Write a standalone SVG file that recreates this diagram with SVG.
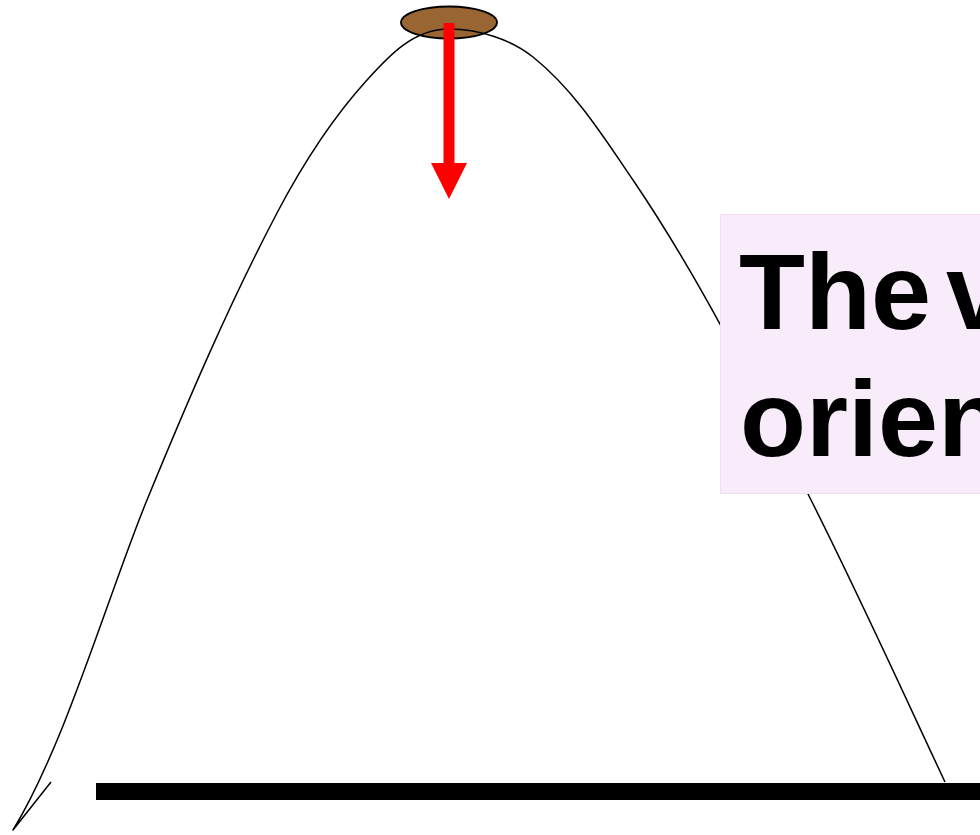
<svg xmlns="http://www.w3.org/2000/svg" width="980" height="835" viewBox="0 0 980 835">
  <style>
    .curve { fill: none; stroke: #000; stroke-width: 1.5; stroke-linejoin: round; }
    .ball { fill: #996633; stroke: #000; stroke-width: 1.8; }
    .arrow { fill: #FF0000; }
    .box { fill: #F9ECFA; stroke: #F3DCF3; stroke-width: 1; }
    .label { font-family: "Liberation Sans", Arial, Helvetica, sans-serif; font-weight: bold; font-size: 108px; fill: #000; }
  </style>
  <rect width="980" height="835" fill="#FFFFFF"/>
  <g id="ball">
    <ellipse class="ball" cx="449" cy="22.5" rx="48" ry="16"/>
  </g>
  <g id="trajectory">
    <path class="curve" d="M51,782 L13,830 C65,745 109,592.5 147,500 C186.9,402.9 228.2,305.9 277,213 C301.6,166.1 331.5,119.2 367,80 C388.4,56.3 413,29 449,29 C478,29 510.4,38.9 533,57 C574.3,90.1 603.2,136.2 633,180 C700.4,279.2 753.8,387 808,494 C855.9,588.6 900.1,686.1 945,782"/>
  </g>
  <g id="ground">
    <rect x="96" y="783" width="884" height="17" fill="#000"/>
  </g>
  <g id="velocity-arrow">
    <rect class="arrow" x="443.5" y="23" width="11" height="141"/>
    <polygon class="arrow" points="431,163 467,163 449,199"/>
  </g>
  <g id="caption">
    <rect class="box" x="720.5" y="214.5" width="270" height="279"/>
    <text class="label" x="739" y="329" word-spacing="-15">The v</text>
    <text class="label" x="740" y="456">orien</text>
  </g>
</svg>
